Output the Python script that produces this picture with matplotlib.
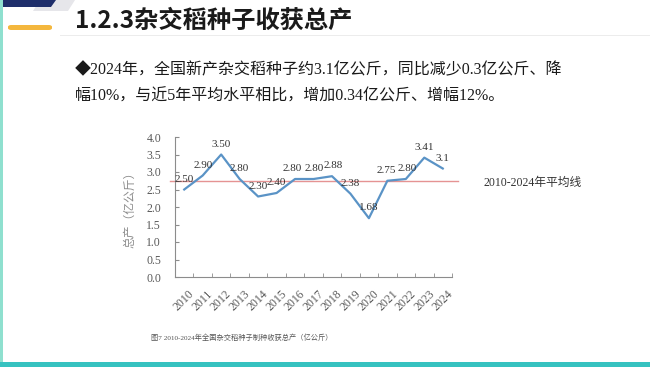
import numpy as np
import matplotlib.pyplot as plt
from matplotlib.patches import Polygon, Rectangle, FancyBboxPatch

# data
years = [str(y) for y in range(2010, 2025)]
output = [2.50, 2.90, 3.50, 2.80, 2.30, 2.40, 2.80, 2.80, 2.88, 2.38, 1.68, 2.75, 2.80, 3.41, 3.1]
labels = ['2.50', '2.90', '3.50', '2.80', '2.30', '2.40', '2.80', '2.80', '2.88', '2.38',
          '1.68', '2.75', '2.80', '3.41', '3.1']
y_ticks = [0.0, 0.5, 1.0, 1.5, 2.0, 2.5, 3.0, 3.5, 4.0]
avg = np.mean(output)

W, H = 650, 367
mixed = ['Liberation Serif', 'Noto Sans CJK SC']
sans_cjk = ['Noto Sans CJK SC', 'DejaVu Sans']


def px(x, y):
    # pixel position (from top-left) -> figure fraction
    return x / W, 1 - y / H


fig = plt.figure(figsize=(6.5, 3.67), dpi=100)
fig.patch.set_facecolor('white')

# slide decorations
deco = [
    Polygon([px(40, 0), px(75, 0), px(68, 11), px(33, 11)], facecolor='#e6e6ea', zorder=0),
    Polygon([px(0, 0), px(56, 0), px(51, 7), px(0, 7)], facecolor='#1f2f6b'),
    FancyBboxPatch(px(8, 30), 44 / W, 5 / H, boxstyle='round,pad=0,rounding_size=0.005',
                   facecolor='#f4b73d', edgecolor='none'),
    Rectangle(px(0, 367), 3 / W, 1.0, facecolor='#8fe0cf', edgecolor='none'),
    Rectangle(px(0, 367), 1.0, 5 / H, facecolor='#36c2c0', edgecolor='none'),
    Rectangle(px(60, 36), 590 / W, 1.2 / H, facecolor='#ececec', edgecolor='none'),
]
for p in deco:
    p.set_transform(fig.transFigure)
    fig.add_artist(p)

# title and body text
fig.text(*px(75, 21), '1.2.3杂交稻种子收获总产', family=sans_cjk, fontsize=17.5,
         fontweight='bold', color='#1a1a1a', va='center')
fig.text(*px(75, 70), '◆2024年，全国新产杂交稻种子约3.1亿公斤，同比减少0.3亿公斤、降',
         family=mixed, fontsize=11.5, color='#1a1a1a', va='center')
fig.text(*px(75, 97), '幅10%，与近5年平均水平相比，增加0.34亿公斤、增幅12%。',
         family=mixed, fontsize=11.5, color='#1a1a1a', va='center')

# chart
ax = fig.add_axes([175 / W, 1 - 277 / H, 277 / W, 140 / H])
x = np.arange(len(years))
ax.plot(x, output, color='#5a93c6', lw=1.6, zorder=3)
ax.plot([-0.75, 14.85], [avg, avg], color='#e59393', lw=1.0, clip_on=False, zorder=2)

# small sideways nudges where neighbouring labels touch (2016/2017)
nudge = [0, 0, 0, 0, 0, 0, -1.8, 0.6, 0.8, 0, 0, -0.8, 0.8, 0, 0]
for xi, v, lab, dx in zip(x, output, labels, nudge):
    ax.annotate(lab, (xi, v), xytext=(dx, 7.5), textcoords='offset points', ha='center',
                va='center', fontsize=8, family='Liberation Serif', color='#333333', zorder=4)

ax.set_xlim(-0.5, 14.5)
ax.set_ylim(0, 4)
ax.set_yticks(y_ticks)
ax.set_yticklabels([f'{t:.1f}' for t in y_ticks], family='Liberation Serif', fontsize=8.5,
                   color='#595959')
ax.set_xticks(x)
ax.set_xticklabels(years, rotation=45, family='Liberation Serif', fontsize=8.5, color='#595959')
ax.set_xticks(np.arange(-0.5, 15, 1), minor=True)
ax.tick_params(axis='x', which='major', length=0, pad=8)
ax.tick_params(axis='x', which='minor', direction='in', length=3, color='#8c8c8c')
ax.tick_params(axis='y', direction='in', length=3, color='#8c8c8c', pad=10)
for s in ['top', 'right']:
    ax.spines[s].set_visible(False)
for s in ['left', 'bottom']:
    ax.spines[s].set_color('#8c8c8c')
    ax.spines[s].set_linewidth(0.8)
ax.set_ylabel('总产（亿公斤）', family=sans_cjk, fontsize=8.5, color='#8c8c8c', labelpad=7)

fig.text(*px(483, 183), '2010-2024年平均线', family=mixed, fontsize=8.5, color='#333333', va='center')
fig.text(*px(242, 337), '图7 2010-2024年全国杂交稻种子制种收获总产（亿公斤）', family=mixed,
         fontsize=5.2, color='#555555', ha='center', va='center')

fig.savefig('out.png', dpi=100)
